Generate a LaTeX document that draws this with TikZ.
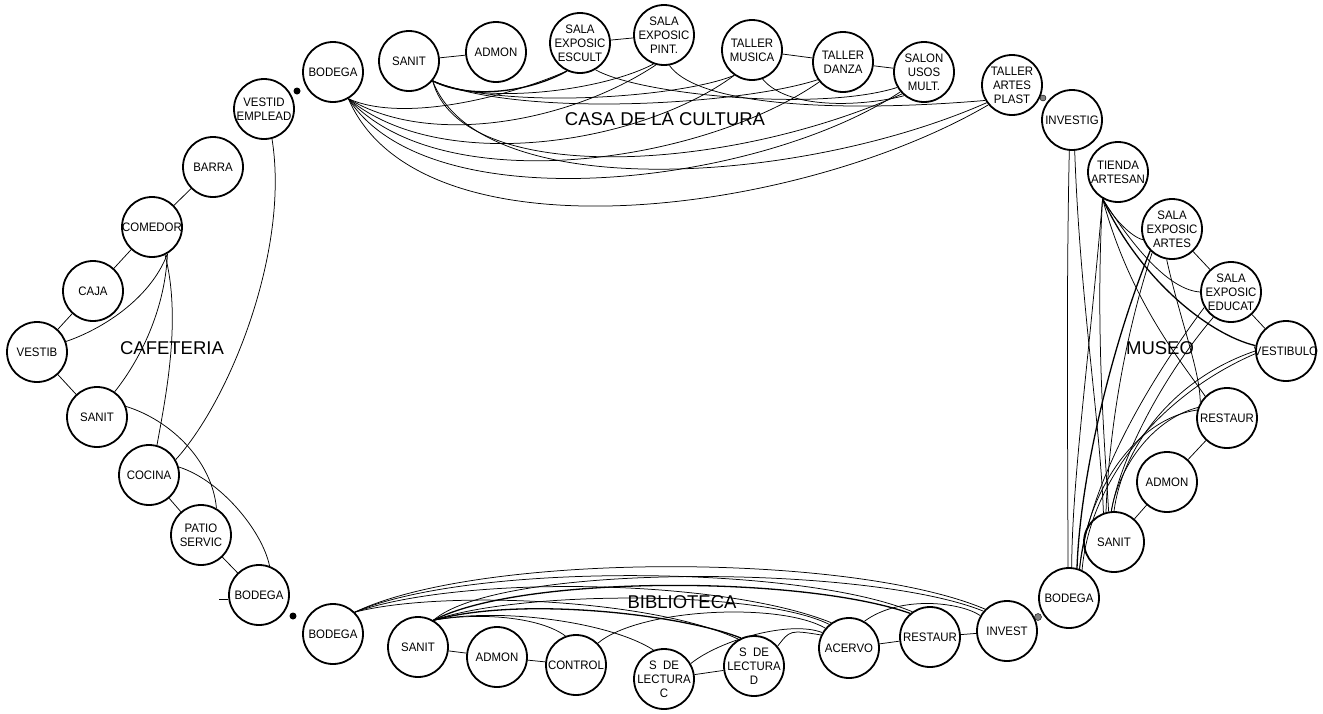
\documentclass[tikz,border=0pt]{standalone}
\usepackage{fontspec}
\setmainfont{Liberation Sans}
\newfontfamily\lab[FakeStretch=0.93]{Liberation Sans}
\begin{document}
\begin{tikzpicture}[x=1pt,y=-1pt,
  room/.style={circle,draw,line width=1.8pt,minimum size=60pt,inner sep=-6pt,align=center,
    font=\lab\fontsize{12.3}{14}\selectfont},
  ln/.style={line width=0.75pt},
  thk/.style={line width=1.3pt},
  grp/.style={font=\fontsize{18.5}{20}\selectfont}]
\useasboundingbox (0,0) rectangle (1323,713);

% ---------- CASA DE LA CULTURA ----------
\node[room] (cbod) at (333,72) {BODEGA};
\node[room] (csan) at (409,61) {SANIT};
\node[room] (cadm) at (496,52) {ADMON};
\node[room] (cesc) at (580,43) {SALA\\EXPOSIC\\ESCULT};
\node[room] (cpin) at (664,35) {SALA\\EXPOSIC\\PINT.};
\node[room] (cmus) at (752,50) {TALLER\\MUSICA};
\node[room] (cdan) at (843,62) {TALLER\\DANZA};
\node[room] (csal) at (924,72) {SALON\\USOS\\MULT.};
\node[room] (cart) at (1012,85) {TALLER\\ARTES\\PLAST};
\node[grp] (gcasa) at (665,119) {CASA DE LA CULTURA};

% ---------- MUSEO ----------
\node[room] (minv) at (1072,120) {INVESTIG};
\node[room] (mtie) at (1118,172) {TIENDA\\ARTESAN};
\node[room] (marts) at (1172,229) {SALA\\EXPOSIC\\ARTES};
\node[room] (medu) at (1231,292) {SALA\\EXPOSIC\\EDUCAT};
\node[room] (mves) at (1286,351) {VESTIBULO};
\node[room] (mres) at (1227,418) {RESTAUR};
\node[room] (madm) at (1167,482) {ADMON};
\node[room] (msan) at (1114,542) {SANIT};
\node[room] (mbod) at (1069,598) {BODEGA};
\node[grp] (gmus) at (1160,348) {MUSEO};

% ---------- BIBLIOTECA ----------
\node[room] (bbod) at (333,634) {BODEGA};
\node[room] (bsan) at (418,647) {SANIT};
\node[room] (badm) at (497,657) {ADMON};
\node[room] (bcon) at (576,665) {CONTROL};
\node[room] (bsdc) at (664,679) {S\ \ DE\\LECTURA\\C};
\node[room] (bsdd) at (754,666) {S\ \ DE\\LECTURA\\D};
\node[room] (bace) at (849,648) {ACERVO};
\node[room] (bres) at (930,637) {RESTAUR};
\node[room] (binv) at (1007,631) {INVEST};
\node[grp] (gbib) at (682,602) {BIBLIOTECA};

% ---------- CAFETERIA ----------
\node[room] (fvem) at (264,109) {VESTID\\EMPLEAD};
\node[room] (fbar) at (213,167) {BARRA};
\node[room] (fcom) at (152,227) {COMEDOR};
\node[room] (fcaj) at (93,291) {CAJA};
\node[room] (fvtb) at (37,352) {VESTIB};
\node[room] (fsan) at (97,417) {SANIT};
\node[room] (fcoc) at (149,475) {COCINA};
\node[room] (fpat) at (201,535) {PATIO\\SERVIC};
\node[room] (fbod) at (259,595) {BODEGA};
\node[grp] (gcaf) at (172,348) {CAFETERIA};

% junction marks
\fill (297,91) circle (3.5);
\fill (293,616) circle (3.5);
\draw[fill=gray] (1043,98) circle (3);
\draw[fill=gray] (1038,617) circle (3.5);
\draw[ln] (fbod.188) -- ++(-9,0);

% ---------- connectors: casa de la cultura ----------
\draw[ln] (csan) -- (cadm);
\draw[ln] (cesc) -- (cpin);
\draw[ln] (cmus) -- (cdan);
\draw[ln] (cdan) -- (csal);
\draw[ln] (cbod.-60) .. controls (400,122) and (500,100) .. (cesc.-115);
\draw[ln] (cbod.-60) .. controls (430,148) and (570,122) .. (cpin.-105);
\draw[ln] (cbod.-60) .. controls (440,175) and (640,145) .. (cmus.-125);
\draw[ln] (cbod.-60) .. controls (440,200) and (700,165) .. (cdan.-140);
\draw[ln] (cbod.-60) .. controls (430,225) and (760,185) .. (csal.-140);
\draw[ln] (cbod.-60) .. controls (420,265) and (800,215) .. (cart.-140);
\draw[thk] (csan.-40) .. controls (470,100) and (530,92) .. (cesc.-115);
\draw[ln] (csan.-40) .. controls (480,105) and (600,92) .. (cpin.-110);
\draw[ln] (csan.-40) .. controls (500,110) and (680,98) .. (cmus.-125);
\draw[ln] (csan.-40) .. controls (520,118) and (740,105) .. (cdan.-145);
\draw[ln] (csan.-40) .. controls (460,185) and (720,175) .. (csal.-135);
\draw[ln] (csan.-40) .. controls (480,205) and (800,185) .. (cart.-145);
\draw[ln] (cesc.-60) .. controls (640,95) and (820,112) .. (csal.-150);
\draw[ln] (cpin.-80) .. controls (700,108) and (850,112) .. (cart.-150);
\draw[ln] (cmus.-70) .. controls (790,112) and (870,105) .. (csal.-130);

% ---------- connectors: museo ----------
\draw[ln] (marts) -- (medu);
\draw[ln] (medu) -- (mves);
\draw[ln] (mres) -- (madm);
\draw[ln] (madm) -- (msan);
\draw[ln] (minv.-95) .. controls (1066,300) and (1068,450) .. (mbod.92);
\draw[ln] (minv.-85) .. controls (1080,300) and (1100,420) .. (msan.110);
\draw[ln] (mtie.-120) .. controls (1090,350) and (1072,480) .. (mbod.85);
\draw[ln] (mtie.-120) .. controls (1095,330) and (1105,450) .. (msan.100);
\draw[ln] (mtie.-120) .. controls (1120,230) and (1140,240) .. (marts.-160);
\draw[ln] (mtie.-120) .. controls (1135,250) and (1170,290) .. (medu.180);
\draw[thk] (mtie.-120) .. controls (1140,280) and (1210,335) .. (mves.170);
\draw[ln] (mtie.-120) .. controls (1130,300) and (1180,360) .. (mres.135);
\draw[thk] (marts.-135) .. controls (1110,350) and (1080,480) .. (mbod.75);
\draw[ln] (marts.-130) .. controls (1120,350) and (1108,450) .. (msan.105);
\draw[ln] (marts.-100) .. controls (1180,320) and (1200,370) .. (mres.150);
\draw[ln] (medu.-150) .. controls (1150,380) and (1090,480) .. (mbod.70);
\draw[ln] (medu.-125) .. controls (1160,380) and (1120,460) .. (msan.95);
\draw[ln] (mves.180) .. controls (1170,380) and (1122,450) .. (msan.90);
\draw[ln] (mves.185) .. controls (1160,395) and (1090,480) .. (mbod.65);
\draw[ln] (mres.160) .. controls (1150,420) and (1118,470) .. (msan.95);
\draw[ln] (mres.165) .. controls (1130,420) and (1085,500) .. (mbod.70);

% ---------- connectors: biblioteca ----------
\draw[ln] (bsan) -- (badm);
\draw[ln] (badm) -- (bcon);
\draw[ln] (bsdc) -- (bsdd);
\draw[ln] (bace) -- (bres);
\draw[ln] (bres) -- (binv);
\draw[ln] (bbod.45) .. controls (480,552) and (850,552) .. (binv.135);
\draw[ln] (bbod.45) .. controls (470,562) and (800,565) .. (bres.125);
\draw[ln] (bbod.45) .. controls (460,575) and (720,578) .. (bace.125);
\draw[ln] (bbod.45) .. controls (440,590) and (650,598) .. (bsdd.120);
\draw[ln] (bsan.60) .. controls (500,562) and (870,565) .. (binv.140);
\draw[thk] (bsan.60) .. controls (520,575) and (800,575) .. (bres.130);
\draw[ln] (bsan.60) .. controls (520,590) and (760,590) .. (bace.130);
\draw[thk] (bsan.60) .. controls (520,596) and (680,614) .. (bsdd.115);
\draw[ln] (bsan.60) .. controls (500,607) and (610,622) .. (bsdc.110);
\draw[ln] (bsan.60) .. controls (480,612) and (540,617) .. (bcon.110);
\draw[ln] (bcon.45) .. controls (640,608) and (780,602) .. (bace.140);
\draw[ln] (bsdc.30) .. controls (720,640) and (790,620) .. (bace.150);
\draw[ln] (bsdd.40) .. controls (790,630) .. (bace.155);
\draw[ln] (bace.60) .. controls (900,595) and (960,602) .. (binv.150);

% ---------- connectors: cafeteria ----------
\draw[ln] (fbar) -- (fcom);
\draw[ln] (fcom) -- (fcaj);
\draw[ln] (fcaj) -- (fvtb);
\draw[ln] (fvtb) -- (fsan);
\draw[ln] (fcoc) -- (fpat);
\draw[ln] (fpat) -- (fbod);
\draw[ln] (fcom.-60) .. controls (150,300) and (100,330) .. (fvtb.20);
\draw[ln] (fcom.-60) .. controls (165,310) and (140,360) .. (fsan.55);
\draw[ln] (fcom.-65) .. controls (182,320) and (165,400) .. (fcoc.75);
\draw[ln] (fvem.-75) .. controls (290,250) and (230,400) .. (fcoc.30);
\draw[ln] (fsan.20) .. controls (170,420) and (212,460) .. (fpat.60);
\draw[ln] (fcoc.15) .. controls (220,480) and (262,530) .. (fbod.70);
\end{tikzpicture}
\end{document}
